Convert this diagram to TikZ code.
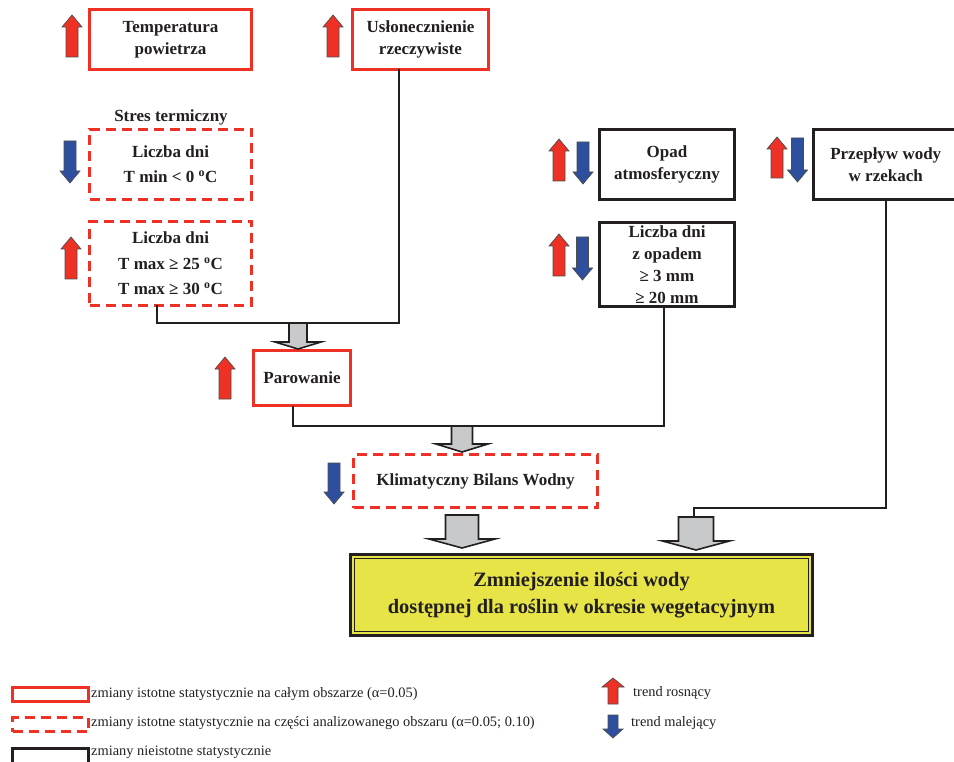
\documentclass[tikz,border=0pt]{standalone}
\usepackage{fontspec}
\setmainfont{Liberation Serif}
\definecolor{rd}{HTML}{EE3124}
\definecolor{bl}{HTML}{2E4F9E}
\definecolor{blk}{HTML}{231F20}
\definecolor{txtc}{HTML}{231F20}
\definecolor{grayf}{HTML}{C8C9CB}
\definecolor{yel}{HTML}{E6E447}
\newcommand\trendup[6]{% cx, top, bottom, shaft hw, head hw, head h
  \draw[trendline, fill=rd] (#1-#4,#3) -- (#1-#4,#2+#6) -- (#1-#5,#2+#6) -- (#1,#2) -- (#1+#5,#2+#6) -- (#1+#4,#2+#6) -- (#1+#4,#3) -- cycle;}
\newcommand\trenddown[6]{%
  \draw[trendline, fill=bl] (#1-#4,#2) -- (#1-#4,#3-#6) -- (#1-#5,#3-#6) -- (#1,#3) -- (#1+#5,#3-#6) -- (#1+#4,#3-#6) -- (#1+#4,#2) -- cycle;}
\newcommand\stdup[3]{\trendup{#1}{#2}{#3}{6}{10}{12}}
\newcommand\stddown[3]{\trenddown{#1}{#2}{#3}{6}{10}{12}}
\newcommand\grayblockarrow[6]{% cx, top, shaft hw, head start, head hw, tip
  \draw[grayarr] (#1-#3,#2) -- (#1+#3,#2) -- (#1+#3,#4) -- (#1+#5,#4) -- (#1,#6) -- (#1-#5,#4) -- (#1-#3,#4) -- cycle;}
\begin{document}
\begin{tikzpicture}[x=1pt,y=-1pt,
  box/.style={rectangle, inner sep=0pt, outer sep=0pt, line width=3pt, align=center, text=txtc, font=\bfseries\fontsize{17}{22}\selectfont},
  solidred/.style={box, draw=rd},
  dashred/.style={box, draw=rd, dash pattern=on 10pt off 6pt},
  solidblk/.style={box, draw=blk},
  conn/.style={draw=blk, line width=2pt},
  grayarr/.style={draw=blk, fill=grayf, line width=1.6pt, line join=miter},
  trendline/.style={draw=black!70, line width=0.7pt},
  legtxt/.style={anchor=west, inner sep=0pt, text=txtc, font=\fontsize{14.4}{17}\selectfont}]
\useasboundingbox (0,0) rectangle (954,762);
\clip (0,0) rectangle (954,762);

% top boxes
\node[solidred, minimum width=162pt, minimum height=60pt] (temp) at (170.5,39.5) {Temperatura\\powietrza};
\node[solidred, minimum width=136pt, minimum height=60pt] (uslo) at (420.5,39.5) {Usłonecznienie\\rzeczywiste};
\stdup{72}{15}{57}
\stdup{333}{15}{57}

% stres termiczny
\node[text=txtc, font=\bfseries\fontsize{17}{22}\selectfont, inner sep=0pt] (stres) at (171,117) {Stres termiczny};
\node[dashred, minimum width=162pt, minimum height=70pt] (tmin) at (170.5,164.5) {Liczba dni\\[3pt]T min {\char"3C} 0 \textsuperscript{o}C};
\node[dashred, minimum width=162pt, minimum height=84pt] (tmax) at (170.5,263.5) {Liczba dni\\[3.5pt]T max ≥ 25 \textsuperscript{o}C\\[3.5pt]T max ≥ 30 \textsuperscript{o}C};
\stddown{70}{141}{183}
\stdup{71}{237}{279}

% parowanie
\node[solidred, minimum width=97pt, minimum height=55pt] (parow) at (302,378) {Parowanie};
\stdup{225}{357}{399}

% KBW
\node[dashred, minimum width=244pt, minimum height=53pt] (kbw) at (475.5,481) {Klimatyczny Bilans Wodny};
\stddown{334}{463}{504}

% right boxes
\node[solidblk, minimum width=135pt, minimum height=70pt] (opad) at (667,164.5) {Opad\\atmosferyczny};
\node[solidblk, minimum width=135pt, minimum height=84pt] (opad2) at (667,264.5) {Liczba dni\\z opadem\\≥ 3 mm\\≥ 20 mm};
\node[solidblk, minimum width=144.5pt, minimum height=70pt] (przep) at (885.75,164.5) {Przepływ wody\\w rzekach};
\stdup{559}{139}{181}
\stddown{583}{142}{184}
\stdup{559}{234}{276}
\stddown{582.5}{237}{280}
\stdup{777}{137}{178}
\stddown{797.5}{138}{182}

% main box
\node[box, draw=blk, fill=yel, minimum width=462pt, minimum height=81pt, font=\bfseries\fontsize{20.4}{27}\selectfont] (main) at (581.5,595) {Zmniejszenie ilości wody\\dostępnej dla roślin w okresie wegetacyjnym};
\draw[blk, line width=1.3pt] ([shift={(4pt,-4pt)}]main.north west) rectangle ([shift={(-4pt,4pt)}]main.south east);

% connectors
\coordinate (j1) at (298,323);
\draw[conn] ([xshift=-13.5pt]tmax.south) |- (j1) -| ([xshift=-21.5pt]uslo.south);
\grayblockarrow{298}{323}{9}{342}{23}{349}

\coordinate (j2) at (462,426);
\draw[conn] ([xshift=-9pt]parow.south) |- (j2) -| ([xshift=-3pt]opad2.south);
\grayblockarrow{462}{426}{10.5}{444}{26}{452}

\grayblockarrow{462}{515}{16.5}{539}{33}{548}

\coordinate (j4) at (694,508);
\coordinate (a4) at (694,517);
\draw[conn] (przep.south) |- (j4) -- (a4);
\grayblockarrow{696}{517}{17.5}{541}{33.5}{550}

% legend
\node[solidred, minimum width=76pt, minimum height=14pt] (lg1) at (50.5,694.5) {};
\node[dashred, minimum width=76pt, minimum height=14pt] (lg2) at (50.5,724.5) {};
\node[solidblk, minimum width=76pt, minimum height=16pt] (lg3) at (50.5,756) {};
\node[legtxt] (lt1) at (91,694) {zmiany istotne statystycznie na całym obszarze (α=0.05)};
\node[legtxt] (lt2) at (91,723) {zmiany istotne statystycznie na części analizowanego obszaru (α=0.05; 0.10)};
\node[legtxt] (lt3) at (91,752) {zmiany nieistotne statystycznie};
\trendup{613}{678}{704}{5}{11}{9}
\trenddown{613}{715}{738}{5}{10}{9}
\node[legtxt] (lt4) at (633,693) {trend rosnący};
\node[legtxt] (lt5) at (631,723) {trend malejący};
\end{tikzpicture}
\end{document}
